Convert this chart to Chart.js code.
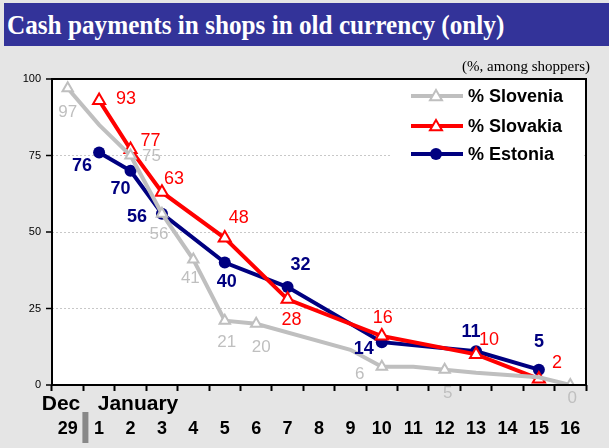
<!DOCTYPE html>
<html lang="en">
<head>
<meta charset="UTF-8">
<title>Cash payments in shops in old currency (only)</title>
<script src="https://cdn.jsdelivr.net/npm/chart.js"></script>
<style>
  html, body { margin: 0; padding: 0; background: #e5e5e5; }
  #wrap { position: relative; width: 609px; height: 448px; overflow: hidden; }
  #titleBar {
    position: absolute; left: 4px; top: 3px; right: 0; height: 43px;
    background: #333399; z-index: 2;
  }
  #titleBar span {
    position: absolute; left: 3px; top: 0; color: #fff; white-space: nowrap;
    font: bold 28px "Liberation Serif", "Times New Roman", serif; line-height: 43px;
    transform: scaleX(0.9); transform-origin: left center;
  }
  #unit {
    position: absolute; right: 19px; top: 58px; z-index: 2;
    font: 15px "Liberation Serif", "Times New Roman", serif; color: #000;
  }
  canvas { position: absolute; left: 0; top: 0; }
</style>
</head>
<body>
<div id="wrap">
  <div id="titleBar"><span>Cash payments in shops in old currency (only)</span></div>
  <div id="unit">(%, among shoppers)</div>
  <canvas id="chart" width="609" height="448"></canvas>
</div>

<script>
// days: 29 Dec, then 1..16 January
const days = ["29", "1", "2", "3", "4", "5", "6", "7", "8", "9", "10", "11", "12", "13", "14", "15", "16"];
const yTicks = [0, 25, 50, 75, 100];

// Slovenia line has some unmarked bends
const slovenia = [97, 85, 75, 56, 41, 21, 20, null, null, 11.5, 6, 6, 5, 4, null, 2.5, 0];
const sloveniaMarked = [1, 0, 1, 1, 1, 1, 1, 0, 0, 0, 1, 0, 1, 0, 0, 0, 1];
const slovakia = [null, 93, 77, 63, null, 48, null, 28, null, null, 16, null, null, 10, null, 2, null];
const estonia = [null, 76, 70, 56, null, 40, null, 32, null, null, 14, null, null, 11, null, 5, null];

// label offsets from the point (dx, dy)
const sloveniaLbl = [[0,24],null,[21,1],[-3,21],[-3,19],[2,22],[5,24],null,null,null,[-22,8],null,[3,24],null,null,null,[2,13]];
const slovakiaLbl = [null,[27,-1],[20,-8],[12,-13],null,[14,-20],null,[4,21],null,null,[1,-18],null,null,[13,-14],null,[18,-16],null];
const estoniaLbl = [null,[-17,14],[-10,18],[-25,3],null,[2,19],null,[13,-22],null,null,[-18,7],null,null,[-5,-19],null,[0,-28],null];

const labelPlugin = {
  id: "pointLabels",
  afterDatasetsDraw(chart) {
    const ctx = chart.ctx;
    const styles = [
      { offs: sloveniaLbl, color: "#bfbfbf", font: "17px Arial, 'Liberation Sans', sans-serif" },
      { offs: slovakiaLbl, color: "#ff0000", font: "18px Arial, 'Liberation Sans', sans-serif" },
      { offs: estoniaLbl, color: "#000080", font: "bold 18px Arial, 'Liberation Sans', sans-serif" }
    ];
    ctx.save();
    ctx.textAlign = "center";
    ctx.textBaseline = "middle";
    chart.data.datasets.forEach((ds, i) => {
      const meta = chart.getDatasetMeta(i);
      const st = styles[i];
      ctx.fillStyle = st.color;
      ctx.font = st.font;
      meta.data.forEach((pt, j) => {
        const off = st.offs[j];
        if (!off || ds.data[j] === null) return;
        ctx.fillText(String(ds.data[j]), pt.x + off[0], pt.y + off[1]);
      });
    });
    ctx.restore();
  }
};

const framePlugin = {
  id: "frame",
  beforeDraw(chart) {
    const { ctx, chartArea: a } = chart;
    ctx.save();
    ctx.fillStyle = "#fff";
    ctx.fillRect(a.left, a.top, a.right - a.left, a.bottom - a.top);
    ctx.restore();
  },
  afterDraw(chart) {
    const { ctx, chartArea: a } = chart;
    ctx.save();
    // legend box
    ctx.fillStyle = "#fff";
    ctx.fillRect(390, 84, 192, 84);
    const rows = [96, 126, 154];
    chart.data.datasets.forEach((ds, i) => {
      const y = rows[i];
      ctx.strokeStyle = ds.borderColor;
      ctx.lineWidth = ds.borderWidth;
      ctx.beginPath(); ctx.moveTo(411, y); ctx.lineTo(463, y); ctx.stroke();
      ctx.lineWidth = 2;
      if (ds.pointStyle === "triangle") {
        const r = 6;
        ctx.fillStyle = "#fff";
        ctx.beginPath();
        ctx.moveTo(436, y - r); ctx.lineTo(436 + r, y + r * 0.7); ctx.lineTo(436 - r, y + r * 0.7);
        ctx.closePath(); ctx.fill(); ctx.stroke();
      } else {
        ctx.fillStyle = ds.pointBackgroundColor;
        ctx.beginPath(); ctx.arc(436, y, 6, 0, Math.PI * 2); ctx.fill();
      }
      ctx.fillStyle = "#000";
      ctx.font = "bold 18px Arial, 'Liberation Sans', sans-serif";
      ctx.textAlign = "left";
      ctx.textBaseline = "middle";
      ctx.fillText(ds.label, 468, y + 1);
    });

    // plot frame
    ctx.strokeStyle = "#000";
    ctx.lineWidth = 2;
    ctx.strokeRect(a.left, a.top, a.right - a.left, a.bottom - a.top);

    // y tick marks
    const ys = chart.scales.y;
    ctx.lineWidth = 1.5;
    yTicks.forEach(v => {
      const py = ys.getPixelForValue(v);
      ctx.beginPath(); ctx.moveTo(a.left - 6, py); ctx.lineTo(a.left, py); ctx.stroke();
    });

    // month labels and separator
    const xs = chart.scales.x;
    ctx.fillStyle = "#000";
    ctx.font = "bold 21px Arial, 'Liberation Sans', sans-serif";
    ctx.textAlign = "center";
    ctx.textBaseline = "middle";
    ctx.fillText("Dec", 61, 404);
    ctx.fillText("January", 138, 404);
    const sep = (xs.getPixelForValue(0) + xs.getPixelForValue(1)) / 2;
    ctx.fillStyle = "#888";
    ctx.fillRect(sep - 1, 412, 6, 31);
    ctx.restore();
  }
};

new Chart(document.getElementById("chart"), {
  type: "line",
  data: {
    labels: days,
    datasets: [
      {
        label: "% Slovenia",
        data: slovenia,
        borderColor: "#bfbfbf",
        borderWidth: 4,
        pointStyle: "triangle",
        pointRadius: sloveniaMarked.map(m => m ? 6 : 0),
        pointBorderWidth: 2,
        pointBackgroundColor: "#fff",
        pointBorderColor: "#bfbfbf",
        spanGaps: true,
        tension: 0
      },
      {
        label: "% Slovakia",
        data: slovakia,
        borderColor: "#ff0000",
        borderWidth: 4,
        pointStyle: "triangle",
        pointRadius: 7,
        pointBorderWidth: 2,
        pointBackgroundColor: "#fff",
        pointBorderColor: "#ff0000",
        spanGaps: true,
        tension: 0
      },
      {
        label: "% Estonia",
        data: estonia,
        borderColor: "#000080",
        borderWidth: 4,
        pointStyle: "circle",
        pointRadius: 6,
        pointBorderWidth: 0,
        pointBackgroundColor: "#000080",
        pointBorderColor: "#000080",
        spanGaps: true,
        tension: 0
      }
    ]
  },
  options: {
    responsive: false,
    animation: false,
    layout: { padding: { left: 0, top: 79, right: 23, bottom: 0 } },
    plugins: { legend: { display: false }, tooltip: { enabled: false } },
    scales: {
      x: {
        offset: true,
        afterFit(s) { s.height = 63; },
        grid: { offset: true, drawOnChartArea: false, drawTicks: true, tickLength: 6, tickColor: "#000", tickWidth: 2 },
        border: { display: false },
        ticks: {
          color: "#000", padding: 27, maxRotation: 0, autoSkip: false,
          font: { family: "Arial, 'Liberation Sans', sans-serif", size: 18, weight: "bold" }
        }
      },
      y: {
        min: 0, max: 100,
        afterFit(s) { s.width = 52; },
        afterBuildTicks(s) { s.ticks = yTicks.map(v => ({ value: v })); },
        grid: {
          color: c => (c.tick && c.tick.value > 0 && c.tick.value < 100) ? "#c8c8c8" : "rgba(0,0,0,0)",
          lineWidth: 1, drawTicks: false
        },
        border: { display: false, dash: [2, 2] },
        ticks: {
          color: "#000", padding: 11,
          font: { family: "Arial, 'Liberation Sans', sans-serif", size: 11 }
        }
      }
    }
  },
  plugins: [framePlugin, labelPlugin]
});
</script>
</body>
</html>
